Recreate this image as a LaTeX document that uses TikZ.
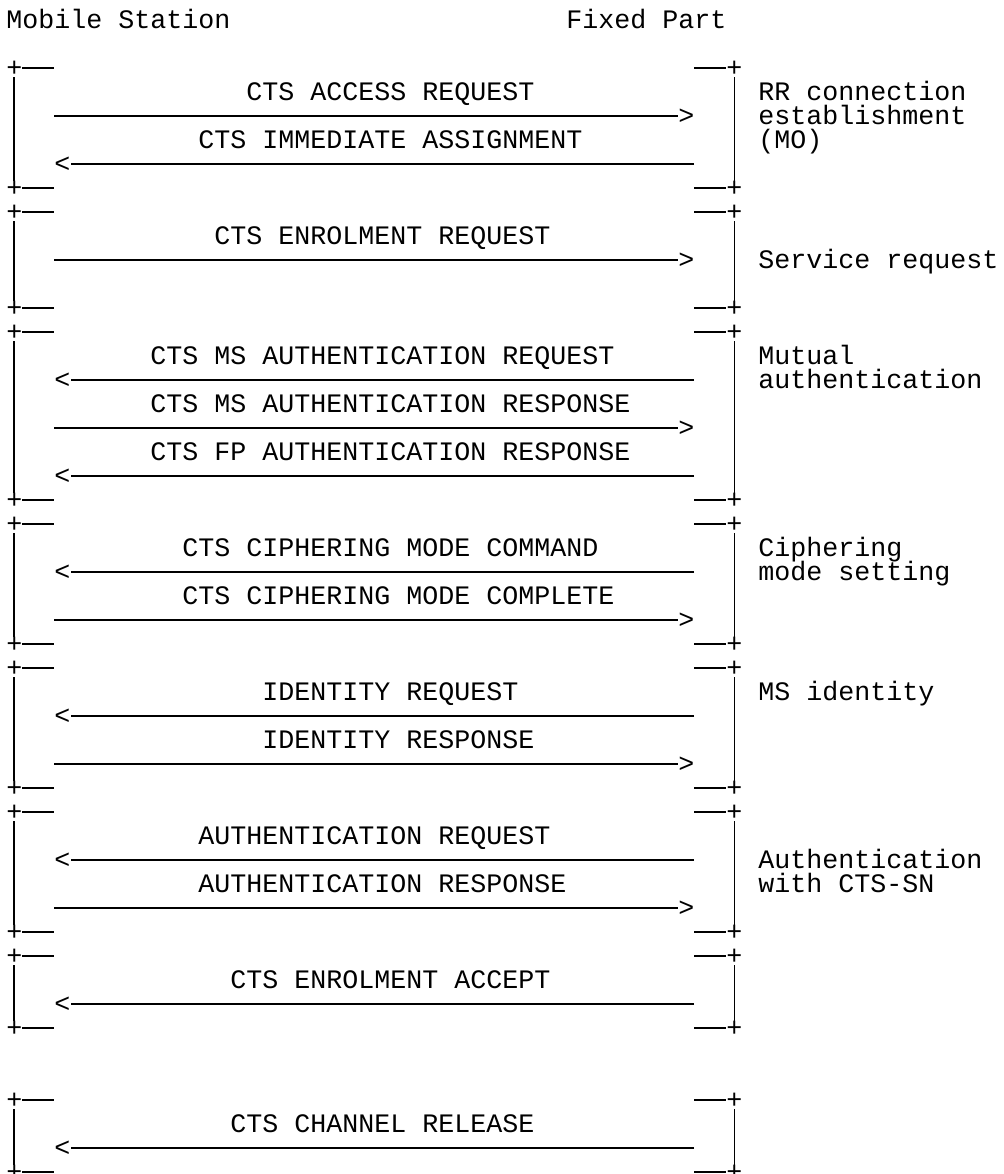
\documentclass[tikz,border=0pt]{standalone}
\usepackage{fontspec}
\newfontfamily\asciifont{Liberation Mono}

\begin{document}
\begin{tikzpicture}[x=8pt, y=12pt,
    txt/.style={font=\asciifont\fontsize{13.33pt}{16pt}\selectfont,
                inner sep=0pt, anchor=base west, yshift=-4.4pt},
    wire/.style={line width=1.4pt},
    bar/.style={line width=0.9pt}]
\useasboundingbox (0,0) rectangle (501.5pt,-587pt);

\begin{scope}[shift={(3pt,-10pt)}]
\node [txt] (mobile) at ( 0, 0) {Mobile Station};
\node [txt] (fixed)  at (35, 0) {Fixed Part};

% one bracket per phase: top row / bottom row
\foreach \t/\b [count=\i] in {2/7, 8/12, 13/20, 21/26, 27/32, 33/38, 39/42, 45/48} {
    \node [txt] (tl\i) at ( 0,-\t) {+};
    \node [txt] (bl\i) at ( 0,-\b) {+};
    \node [txt] (tr\i) at (45,-\t) {+};
    \node [txt] (br\i) at (45,-\b) {+};
    \draw [wire] (1,-\t) -- (3,-\t);
    \draw [wire] (1,-\b) -- (3,-\b);
    \draw [wire] (43,-\t) -- (45,-\t);
    \draw [wire] (43,-\b) -- (45,-\b);
    \draw [bar] (tl\i.south) -- (bl\i.north);
    \draw [bar] (tr\i.south) -- (br\i.north);
}

% mobile station -> fixed part
\foreach \r/\c/\msg [count=\j] in {
    3/15/CTS ACCESS REQUEST,
    9/13/CTS ENROLMENT REQUEST,
    16/9/CTS MS AUTHENTICATION RESPONSE,
    24/11/CTS CIPHERING MODE COMPLETE,
    30/16/IDENTITY RESPONSE,
    36/12/AUTHENTICATION RESPONSE} {
    \node [txt] (up\j) at (\c,-\r) {\msg};
    \coordinate (upsrc\j) at (3,-\r-1);
    \node [txt] (uphead\j) at (42,-\r-1) {>};
    \draw [wire] (upsrc\j) -- (uphead\j.west |- upsrc\j);
}

% fixed part -> mobile station
\foreach \r/\c/\msg [count=\j] in {
    5/12/CTS IMMEDIATE ASSIGNMENT,
    14/9/CTS MS AUTHENTICATION REQUEST,
    18/9/CTS FP AUTHENTICATION RESPONSE,
    22/11/CTS CIPHERING MODE COMMAND,
    28/16/IDENTITY REQUEST,
    34/12/AUTHENTICATION REQUEST,
    40/14/CTS ENROLMENT ACCEPT,
    46/14/CTS CHANNEL RELEASE} {
    \node [txt] (down\j) at (\c,-\r) {\msg};
    \coordinate (downsrc\j) at (43,-\r-1);
    \node [txt] (downhead\j) at (3,-\r-1) {<};
    \draw [wire] (downsrc\j) -- (downhead\j.east |- downsrc\j);
}

% phase names
\node [txt] (rrconn)   at (47, -3) {RR connection};
\node [txt] (rrest)    at (47, -4) {establishment};
\node [txt] (rrmo)     at (47, -5) {(MO)};
\node [txt] (service)  at (47,-10) {Service request};
\node [txt] (mutual)   at (47,-14) {Mutual};
\node [txt] (mutauth)  at (47,-15) {authentication};
\node [txt] (ciph)     at (47,-22) {Ciphering};
\node [txt] (ciphmode) at (47,-23) {mode setting};
\node [txt] (msid)     at (47,-28) {MS identity};
\node [txt] (authcts)  at (47,-35) {Authentication};
\node [txt] (authwith) at (47,-36) {with CTS-SN};
\end{scope}
\end{tikzpicture}
\end{document}
